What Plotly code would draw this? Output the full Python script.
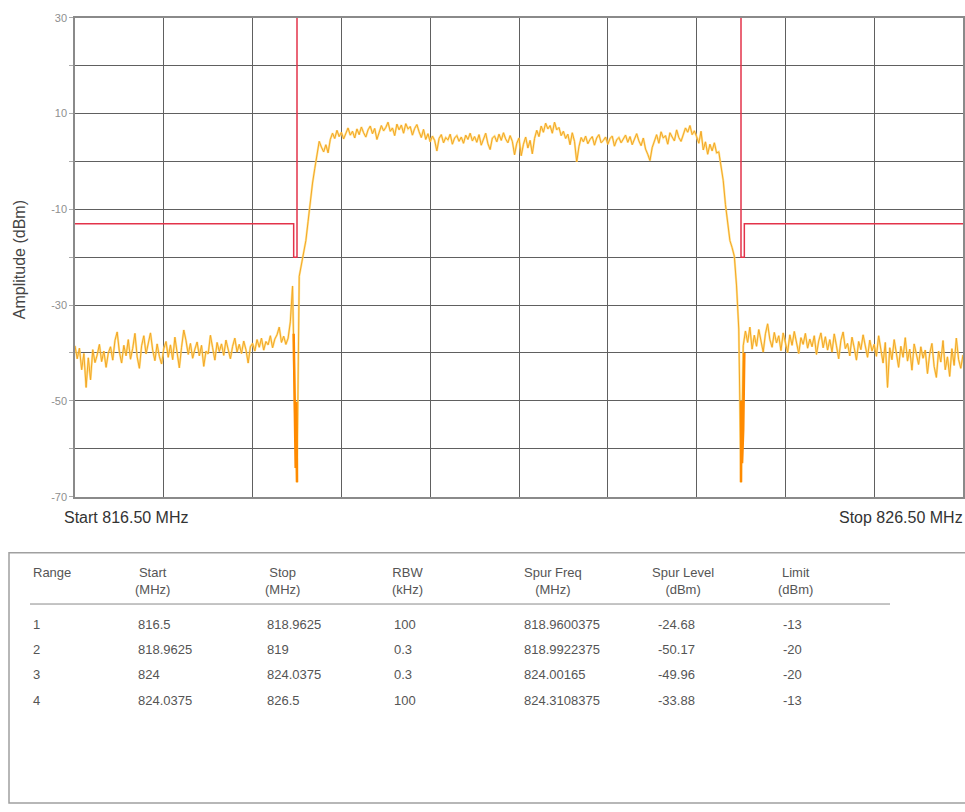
import numpy as np
import plotly.graph_objects as go

W, H = 965, 812

# ---------------- data ----------------
sweep_start_mhz = 816.5
sweep_stop_mhz = 826.5
sweep_step_mhz = 0.025

# trace amplitude (dBm), one value per sweep point (816.5 .. 826.5 step 0.025)
trace_dbm = [
    # 816.500 - 816.975
    -38.5, -41.2, -39.0, -43.5, -40.1, -47.2, -41.0, -45.6, -39.3, -42.0,
    -40.4, -38.2, -41.8, -39.6, -43.0, -40.0, -38.7, -41.5, -37.4, -35.6,
    # 817.000 - 817.475
    -39.8, -42.1, -38.4, -40.6, -37.2, -41.3, -39.0, -35.9, -40.8, -43.2,
    -38.5, -36.4, -40.2, -37.9, -35.8, -39.4, -41.6, -38.1, -40.7, -42.3,
    # 817.500 - 817.975
    -39.1, -37.6, -40.9, -38.3, -41.4, -36.7, -39.5, -43.1, -38.8, -35.2,
    -37.4, -40.3, -38.0, -41.1, -39.2, -37.7, -40.6, -38.4, -42.8, -39.6,
    # 818.000 - 818.475
    -40.2, -36.3, -38.9, -41.5, -37.8, -39.7, -38.1, -40.5, -37.3, -39.0,
    -41.2, -38.6, -36.9, -39.8, -38.2, -40.1, -37.5, -39.3, -42.1, -38.7,
    # 818.500 - 818.975
    -38.0, -39.6, -37.2, -38.8, -36.9, -39.4, -37.6, -38.3, -36.4, -38.9,
    -37.1, -36.2, -34.6, -37.8, -36.5, -38.2, -36.9, -33.5, -26.0, -50.5,
    # 819.000
    -67.0,
    # 819.025 - 819.475
    -24.0, -21.5, -19.0, -16.5, -12.5, -8.0, -4.5, -1.5, 1.5, 4.2,
    3.0, 2.0, 3.5, 1.8, 4.6, 5.9, 4.8, 6.5, 5.2,
    # 819.500 - 819.975
    6.1, 4.7, 5.8, 7.0, 5.5, 6.3, 4.9, 6.8, 5.6, 7.2,
    6.0, 5.1, 6.6, 7.4, 5.8, 6.9, 4.6, 6.2, 7.5, 6.4,
    # 820.000 - 820.475
    7.1, 8.2, 6.3, 7.0, 5.4, 7.8, 6.6, 7.6, 5.9, 7.9,
    6.8, 7.3, 5.5, 6.9, 7.7, 6.2, 5.0, 6.7, 4.6, 5.8,
    # 820.500 - 820.975
    4.1, 5.3, 4.4, 2.2, 4.8, 5.6, 3.9, 5.0, 4.5, 5.7,
    3.6, 4.9, 5.4, 4.2, 5.1, 3.8, 5.5, 4.6, 5.9, 4.3,
    # 821.000 - 821.475
    5.2, 4.0, 5.6, 3.4, 4.8, 5.9, 3.7, 2.5, 4.9, 5.3,
    4.1, 5.7, 4.4, 6.0, 4.7, 3.9, 5.4, 4.2, 1.4, 3.8,
    # 821.500 - 821.975
    4.9, 1.2, 3.6, 5.1, 2.8, 4.4, 1.6, 4.8, 6.5, 5.2,
    7.4, 6.1, 8.0, 6.8, 7.5, 5.9, 8.2, 6.6, 7.1, 5.4,
    # 822.000 - 822.475
    6.3, 4.8, 5.7, 3.5, 6.0, 4.2, -0.1, 3.1, 5.0, 4.1,
    5.3, 3.7, 4.6, 5.2, 3.4, 4.9, 5.6, 3.9, 4.4, 5.1,
    # 822.500 - 822.975
    3.6, 4.8, 5.3, 3.2, 4.5, 5.0, 3.9, 4.7, 5.5, 4.0,
    5.2, 3.5, 4.6, 5.8, 4.3, 3.3, 4.9, 2.6, 1.5, 0.2,
    # 823.000 - 823.475
    2.9, 4.4, 5.6, 3.8, 6.2, 4.9, 5.4, 3.6, 6.0, 5.1,
    4.3, 6.6, 5.0, 4.2, 5.8, 7.0, 6.1, 7.5, 5.6, 6.4,
    # 823.500 - 823.975
    5.2, 3.8, 6.3, 2.4, 4.1, 1.5, 3.6, 2.2, 3.9, 1.8,
    2.0, -1.0, -4.0, -9.0, -13.0, -16.5, -18.0, -19.8, -26.0, -35.0,
    # 824.000
    -67.0,
    # 824.025 - 824.475
    -38.5, -35.4, -37.8, -34.6, -39.2, -36.3, -38.6, -35.1, -37.4, -39.8,
    -36.0, -33.9, -37.2, -38.8, -35.7, -37.9, -36.4, -39.5, -35.8,
    # 824.500 - 824.975
    -37.6, -39.9, -36.2, -38.4, -35.5, -37.9, -40.1, -36.8, -38.2, -35.9,
    -39.0, -37.1, -38.7, -36.4, -40.3, -37.5, -35.8, -38.9, -36.6, -39.4,
    # 825.000 - 825.475
    -37.2, -39.8, -36.0, -38.5, -41.2, -37.4, -35.6, -39.1, -38.0, -40.6,
    -36.7, -38.9, -41.5, -37.6, -39.3, -36.2, -38.4, -40.9, -37.3, -39.6,
    # 825.500 - 825.975
    -38.2, -40.7, -36.4, -39.5, -42.1, -37.8, -47.2, -38.9, -41.4, -37.2,
    -39.8, -43.0, -38.6, -40.9, -36.8, -41.7, -39.2, -43.6, -38.1, -40.5,
    # 826.000 - 826.500
    -42.4, -38.7, -41.1, -39.4, -44.3, -40.2, -38.0, -42.8, -45.1, -39.6,
    -41.9, -37.4, -43.5, -40.8, -44.9, -39.1, -42.6, -36.9, -41.3, -43.2,
    -40.4,
]

# narrow-RBW measurement segments (ranges 2 and 3)
range2_freq = [818.9625, 818.975, 818.985, 818.9922375, 819.0]
range2_dbm = [-36.0, -55.0, -64.0, -50.17, -67.0]
range3_freq = [824.0, 824.00165, 824.012, 824.025, 824.0375]
range3_dbm = [-67.0, -49.96, -63.0, -56.0, -40.0]

# limit mask
limit_left_freq = [816.5, 818.9625, 818.9625, 819.0, 819.0]
limit_left_dbm = [-13, -13, -20, -20, 30]
limit_right_freq = [824.0, 824.0, 824.0375, 824.0375, 826.5]
limit_right_dbm = [30, -20, -20, -13, -13]

y_tick_vals = [-70, -60, -50, -40, -30, -20, -10, 0, 10, 20, 30]
y_tick_text = ["-70", "", "-50", "", "-30", "", "-10", "", "10", "", "30"]

x_start_label = "Start 816.50 MHz"
x_stop_label = "Stop 826.50 MHz"
y_title = "Amplitude (dBm)"

# table
table_headers = ["Range", "Start<br>(MHz)", "Stop<br>(MHz)", "RBW<br>(kHz)",
                 "Spur Freq<br>(MHz)", "Spur Level<br>(dBm)", "Limit<br>(dBm)"]
col_range = ["1", "2", "3", "4"]
col_start = ["816.5", "818.9625", "824", "824.0375"]
col_stop = ["818.9625", "819", "824.0375", "826.5"]
col_rbw = ["100", "0.3", "0.3", "100"]
col_spur_freq = ["818.9600375", "818.9922375", "824.00165", "824.3108375"]
col_spur_level = ["-24.68", "-50.17", "-49.96", "-33.88"]
col_limit = ["-13", "-20", "-20", "-13"]

# ---------------- figure ----------------
n_pts = len(trace_dbm)
freq = sweep_start_mhz + sweep_step_mhz * np.arange(n_pts)


def px(x):
    return x / W


def py(y):
    return 1 - y / H


PLOT_L, PLOT_R, PLOT_T, PLOT_B = 75, 963, 12, 498

fig = go.Figure()

fig.add_trace(go.Scatter(x=freq, y=trace_dbm, mode="lines",
                         line=dict(color="#FFDA70", width=2.2), opacity=0.75,
                         hoverinfo="skip", showlegend=False))
fig.add_trace(go.Scatter(x=freq, y=trace_dbm, mode="lines",
                         line=dict(color="#F3A626", width=1),
                         showlegend=False))
fig.add_trace(go.Scatter(x=range2_freq, y=range2_dbm, mode="lines",
                         line=dict(color="#FF8A00", width=2.5), showlegend=False))
fig.add_trace(go.Scatter(x=range3_freq, y=range3_dbm, mode="lines",
                         line=dict(color="#FF8A00", width=2.5), showlegend=False))
fig.add_trace(go.Scatter(x=limit_left_freq, y=limit_left_dbm, mode="lines",
                         line=dict(color="#E3334A", width=1.5), showlegend=False))
fig.add_trace(go.Scatter(x=limit_right_freq, y=limit_right_dbm, mode="lines",
                         line=dict(color="#E3334A", width=1.5), showlegend=False))

fig.update_xaxes(range=[sweep_start_mhz, sweep_stop_mhz], dtick=1, tick0=sweep_start_mhz,
                 showticklabels=False, showgrid=True, gridcolor="#606060", gridwidth=1,
                 zeroline=False, showline=True, linecolor="#8a8a8a", linewidth=1.5,
                 mirror=True, domain=[px(PLOT_L), px(PLOT_R)])
fig.update_yaxes(range=[-70, 30], tickmode="array", tickvals=y_tick_vals, ticktext=y_tick_text,
                 showgrid=True, gridcolor="#606060", gridwidth=1, zeroline=False,
                 showline=True, linecolor="#8a8a8a", linewidth=1.5, mirror=True,
                 ticks="outside", ticklen=4, tickcolor="#aaaaaa", ticklabeloverflow="allow",
                 tickfont=dict(family="Liberation Sans", size=11, color="#8e8e8e"),
                 domain=[py(PLOT_B), py(PLOT_T)])

annotations = []
annotations.append(dict(x=px(19), y=py(258), xref="paper", yref="paper", text=y_title,
                        textangle=-90, showarrow=False, xanchor="center", yanchor="middle",
                        font=dict(family="Liberation Sans", size=16, color="#444444")))
annotations.append(dict(x=px(62), y=py(519), xref="paper", yref="paper", text=x_start_label,
                        xanchor="left", yanchor="middle", showarrow=False,
                        font=dict(family="Liberation Sans", size=16, color="#333333")))
annotations.append(dict(x=px(965), y=py(519), xref="paper", yref="paper", text=x_stop_label,
                        xanchor="right", yanchor="middle", showarrow=False,
                        font=dict(family="Liberation Sans", size=16, color="#333333")))

col_x = [31, 133, 263, 390, 522, 650, 776]
row_y = [628, 653, 679, 705]
tfont = dict(family="Liberation Sans", size=13, color="#555555")
for cx, htxt in zip(col_x, table_headers):
    annotations.append(dict(x=px(cx), y=py(565), xref="paper", yref="paper", text=htxt,
                            xanchor="left", yanchor="top", align="center",
                            showarrow=False, font=tfont))
value_x = [31, 136, 265, 392, 522, 656, 781]
columns = [col_range, col_start, col_stop, col_rbw, col_spur_freq, col_spur_level, col_limit]
for cx, col in zip(value_x, columns):
    for ry, val in zip(row_y, col):
        annotations.append(dict(x=px(cx), y=py(ry), xref="paper", yref="paper", text=val,
                                xanchor="left", yanchor="middle", showarrow=False,
                                font=tfont))

shapes = [
    dict(type="rect", xref="paper", yref="paper", x0=px(9), x1=px(975), y0=py(809), y1=py(555),
         line=dict(color="#a0a0a0", width=1.5), fillcolor="rgba(0,0,0,0)"),
    dict(type="line", xref="paper", yref="paper", x0=px(30), x1=px(890), y0=py(607), y1=py(607),
         line=dict(color="#8a8a8a", width=1)),
]

fig.update_layout(width=W, height=H, autosize=False,
                  margin=dict(l=0, r=0, t=0, b=0, pad=0),
                  paper_bgcolor="white", plot_bgcolor="white",
                  annotations=annotations, shapes=shapes, showlegend=False)

# remove the browser's default page margin so the figure fills the window exactly
fig.write_html("out.html",
               config={"displayModeBar": False},
               post_script="document.body.style.margin='0';"
                           "document.body.style.overflow='hidden';"
                           "document.documentElement.style.overflow='hidden';")
